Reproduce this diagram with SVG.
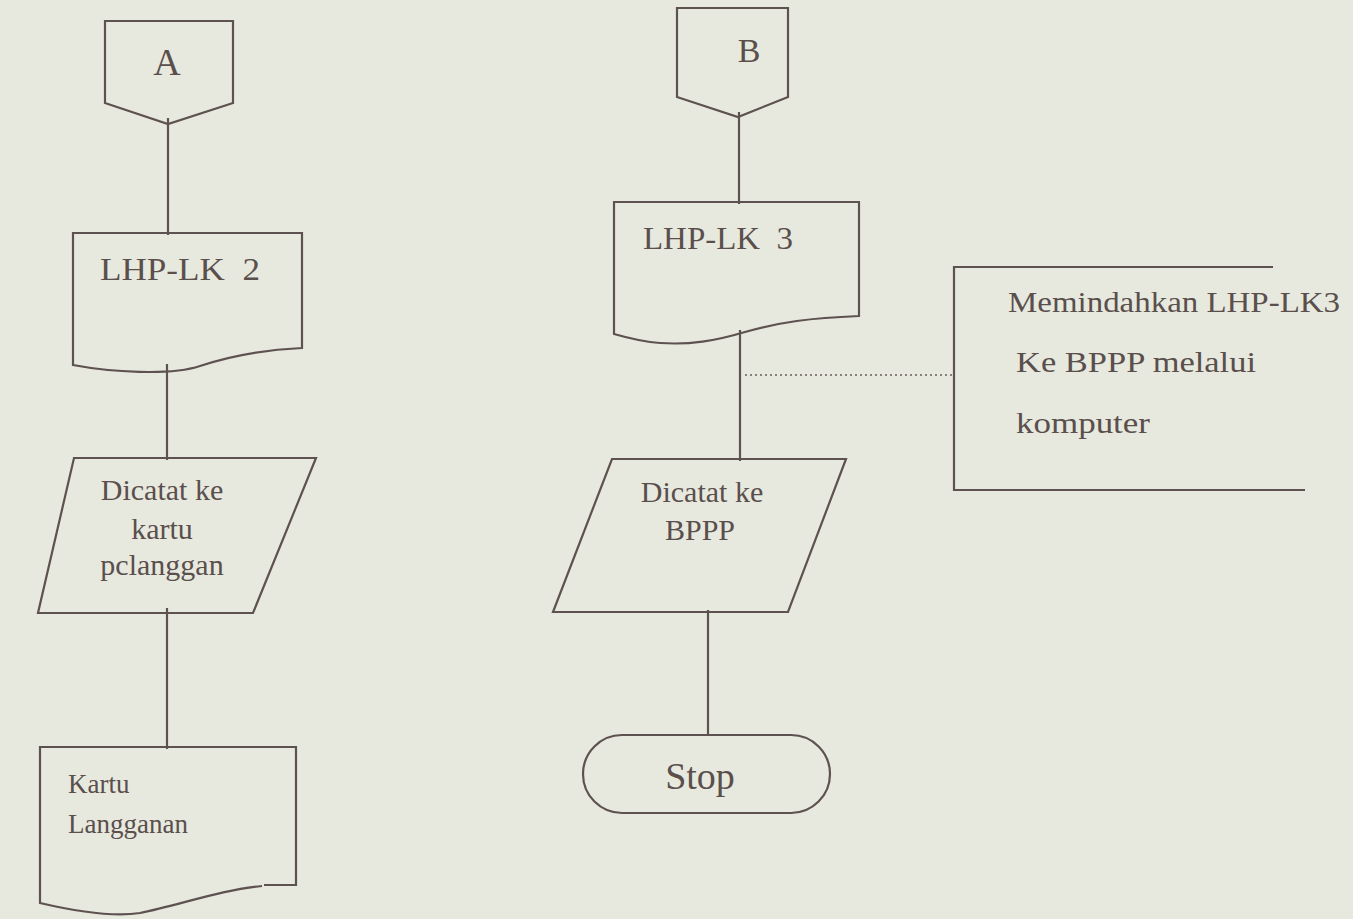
<svg xmlns="http://www.w3.org/2000/svg" width="1353" height="919" viewBox="0 0 1353 919">
<style>
.s{fill:none;stroke:#5e5250;stroke-width:2.2;stroke-linejoin:miter}
.t{font-family:"Liberation Serif","Times New Roman",serif;fill:#5a4f4d}
.pre{white-space:pre}
.dot{fill:none;stroke:#6a5e5c;stroke-width:1.6;stroke-dasharray:2 3}
</style>
<rect x="0" y="0" width="1353" height="919" fill="#e7e9de"/>
<g id="connectors">
<line class="s" x1="168" y1="118" x2="168" y2="235"/>
<line class="s" x1="167" y1="364" x2="167" y2="460"/>
<line class="s" x1="167" y1="608" x2="167" y2="749"/>
<line class="s" x1="739" y1="112" x2="739" y2="204"/>
<line class="s" x1="740" y1="330" x2="740" y2="461"/>
<line class="s" x1="708" y1="610" x2="708" y2="736"/>
<line class="dot" x1="745" y1="375" x2="953" y2="375"/>
</g>
<g id="nodeA">
<path class="s" d="M105,21 H233 V103 L168,124 L105,103 Z"/>
<text class="t" x="167" y="75" font-size="38" text-anchor="middle">A</text>
</g>
<g id="nodeLHP2">
<path class="s" d="M73,233 H302 V348 C260,350 230,356 200,366 C170,376 110,372 73,365 Z"/>
<text class="t pre" x="100" y="280" font-size="32" textLength="160" lengthAdjust="spacingAndGlyphs">LHP-LK  2</text>
</g>
<g id="nodeProc1">
<path class="s" d="M74,458 H316 L253,613 H38 Z"/>
<text class="t" font-size="30" text-anchor="middle"><tspan x="162" y="500">Dicatat ke</tspan><tspan x="162" y="539">kartu</tspan><tspan x="162" y="575">pclanggan</tspan></text>
</g>
<g id="nodeKartu">
<path class="s" d="M264,885 H296 V747 H40 V903 C70,910 110,918 140,913 C180,905 220,890 262,886"/>
<text class="t" font-size="27"><tspan x="68" y="793">Kartu</tspan><tspan x="68" y="833">Langganan</tspan></text>
</g>
<g id="nodeB">
<path class="s" d="M677,8 H788 V97 L738,117 L677,97 Z"/>
<text class="t" x="749" y="62" font-size="34" text-anchor="middle">B</text>
</g>
<g id="nodeLHP3">
<path class="s" d="M614,202 H859 V316 C810,318 780,322 745,332 C715,341 690,345 660,343 C645,342 628,338 614,334 Z"/>
<text class="t pre" x="643" y="249" font-size="32" textLength="150" lengthAdjust="spacingAndGlyphs">LHP-LK  3</text>
</g>
<g id="nodeNote">
<path class="s" d="M1273,267 H954 V490 H1305"/>
<text class="t" x="1008" y="312" font-size="30" textLength="332" lengthAdjust="spacingAndGlyphs">Memindahkan LHP-LK3</text>
<text class="t" x="1016" y="372" font-size="30" textLength="240" lengthAdjust="spacingAndGlyphs">Ke BPPP melalui</text>
<text class="t" x="1016" y="433" font-size="30" textLength="134" lengthAdjust="spacingAndGlyphs">komputer</text>
</g>
<g id="nodeProc2">
<path class="s" d="M612,459 H846 L788,612 H553 Z"/>
<text class="t" font-size="30" text-anchor="middle"><tspan x="702" y="502">Dicatat ke</tspan><tspan x="700" y="540">BPPP</tspan></text>
</g>
<g id="nodeStop">
<rect class="s" x="583" y="735" width="247" height="78" rx="39" ry="39"/>
<text class="t" x="700" y="789" font-size="38" text-anchor="middle">Stop</text>
</g>
</svg>
